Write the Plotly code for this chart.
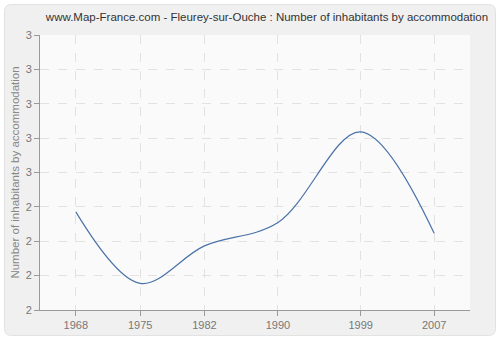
import plotly.graph_objects as go

years = [1968, 1975, 1982, 1990, 1999, 2007]
values = [2.357, 2.097, 2.233, 2.318, 2.648, 2.279]
y_tickvals = [2.0, 2.125, 2.25, 2.375, 2.5, 2.625, 2.75, 2.875, 3.0]
y_ticktext = ["2", "2", "2", "2", "3", "3", "3", "3", "3"]

W, H = 500, 340
L, R, T, B = 40, 30, 35, 30
pw, ph = W - L - R, H - T - B

def px(x):
    return (x - L) / pw

def py(y):
    return (H - B - y) / ph

def rounded_rect(x0, y0, x1, y1, r):
    return (f"M {px(x0 + r)} {py(y0)} L {px(x1 - r)} {py(y0)} "
            f"Q {px(x1)} {py(y0)} {px(x1)} {py(y0 + r)} "
            f"L {px(x1)} {py(y1 - r)} Q {px(x1)} {py(y1)} {px(x1 - r)} {py(y1)} "
            f"L {px(x0 + r)} {py(y1)} Q {px(x0)} {py(y1)} {px(x0)} {py(y1 - r)} "
            f"L {px(x0)} {py(y0 + r)} Q {px(x0)} {py(y0)} {px(x0 + r)} {py(y0)} Z")

fig = go.Figure()
fig.add_trace(go.Scatter(
    x=years, y=values, mode="lines",
    line=dict(color="#4a72a8", width=1.2, shape="spline", smoothing=1.0),
    hoverinfo="x+y",
))

shapes = [
    dict(type="path", xref="paper", yref="paper",
         path=rounded_rect(4.5, 4.5, 495.5, 335.5, 7),
         fillcolor="#f0f0f0", line=dict(color="#e2e2e2", width=1), layer="below"),
    dict(type="rect", xref="paper", yref="paper", x0=0, x1=1, y0=0, y1=1,
         fillcolor="#fafafa", line=dict(width=0), layer="below"),
]

fig.update_layout(
    width=W, height=H,
    margin=dict(l=L, r=R, t=T, b=B, autoexpand=False),
    paper_bgcolor="white",
    plot_bgcolor="rgba(0,0,0,0)",
    showlegend=False,
    shapes=shapes,
    title=dict(
        text="www.Map-France.com - Fleurey-sur-Ouche : Number of inhabitants by accommodation",
        x=267 / W, xanchor="center", y=1 - 17 / H, yanchor="middle",
        font=dict(family="Liberation Sans", size=11.5, color="#333333"),
    ),
    font=dict(family="Liberation Sans", size=11, color="#777777"),
    xaxis=dict(
        range=[1964.1, 2010.9], automargin=False,
        tickvals=years, ticktext=[str(y) for y in years],
        showgrid=True, gridcolor="#e2e2e2", griddash="dash", gridwidth=1,
        showline=True, linecolor="#999999", linewidth=1,
        ticks="outside", ticklen=5, tickcolor="#999999",
        zeroline=False, fixedrange=True,
        tickfont=dict(size=11, color="#777777"),
    ),
    yaxis=dict(
        range=[2.0, 3.0], automargin=False,
        tickvals=y_tickvals, ticktext=y_ticktext,
        showgrid=True, gridcolor="#e2e2e2", griddash="dash", gridwidth=1,
        showline=True, linecolor="#999999", linewidth=1,
        ticks="outside", ticklen=5, tickcolor="#999999",
        zeroline=False, fixedrange=True,
        tickfont=dict(size=11, color="#777777"),
        title=dict(text="Number of inhabitants by accommodation",
                   font=dict(size=11.5, color="#888888"), standoff=3),
    ),
)

fig.write_html("out.html")
